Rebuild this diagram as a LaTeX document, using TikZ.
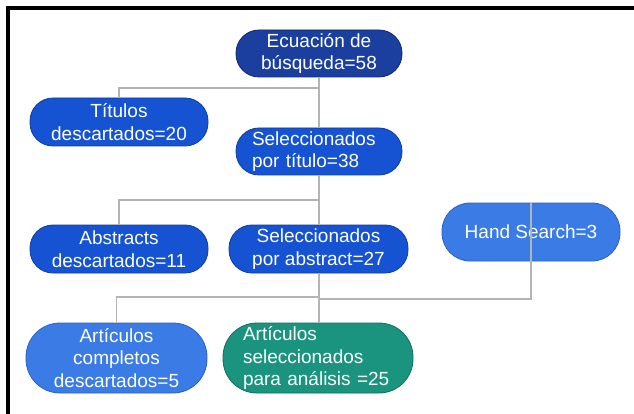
\documentclass[tikz,border=0pt]{standalone}
\usepackage{fontspec}
\setmainfont{Liberation Sans}
\definecolor{navy}{RGB}{27,63,159}
\definecolor{navyline}{RGB}{16,40,110}
\definecolor{midblue}{RGB}{21,83,211}
\definecolor{midline}{RGB}{14,60,165}
\definecolor{lightblue}{RGB}{58,123,230}
\definecolor{lightline}{RGB}{40,98,200}
\definecolor{teal}{RGB}{26,148,127}
\definecolor{tealline}{RGB}{18,110,92}
\definecolor{conn}{RGB}{180,180,180}
\begin{document}
\begin{tikzpicture}[x=1pt,y=-1pt,
  box/.style={draw, line width=0.8pt, text=white, inner sep=0pt,
    font=\fontsize{19}{22.5}\selectfont, align=center},
  short/.style={box, minimum height=47pt, rounded corners=23pt},
  tall/.style={box, minimum height=70pt, rounded corners=34pt},
  navybox/.style={fill=navy, draw=navyline},
  midbox/.style={fill=midblue, draw=midline},
  lightbox/.style={fill=lightblue, draw=lightline},
  tealbox/.style={fill=teal, draw=tealline},
  link/.style={draw=conn, line width=1.3pt},
  frameline/.style={draw=black, line width=3.5pt}
]
\useasboundingbox (0,0) rectangle (634,414);
\draw[frameline] (8,414) -- (8,8) -- (634,8);

\node[short, navybox, minimum width=166pt] (E) at (319,53.5) {Ecuación de\\búsqueda=58};
\node[short, midbox, minimum width=178pt, minimum height=48pt] (T) at (119,122) {Títulos\\descartados=20};
\node[short, midbox, minimum width=166pt, text width=134pt, align=left] (S1) at (319,151.5) {Seleccionados\\por título=38};
\node[short, midbox, minimum width=178pt, minimum height=48pt] (A) at (119,249) {Abstracts\\descartados=11};
\node[short, midbox, minimum width=179pt, minimum height=48pt] (S2) at (318.5,249) {Seleccionados\\por abstract=27};
\node[box, lightbox, minimum width=178pt, minimum height=58pt, rounded corners=28pt] (H) at (531,232) {Hand Search=3};
\node[tall, lightbox, minimum width=181pt] (C) at (116.5,358) {Artículos\\completos\\descartados=5};
\node[tall, tealbox, minimum width=190pt, text width=150pt, align=left] (F) at (318,358) {Artículos\\seleccionados\\para análisis =25};

\coordinate (j1) at (319,88);
\coordinate (j2) at (319,200);
\coordinate (j3) at (319,297);
\coordinate (j4) at (319,299);
\coordinate (hj) at (531,299);

\draw[link] (E.south) -- (E.south |- S1.north);
\draw[link] (j1) -| (T.north);
\draw[link] (S1.south) -- (S1.south |- S2.north);
\draw[link] (j2) -| (A.north);
\draw[link] (S2.south -| j3) -- (j3 |- F.north);
\draw[link] (j3) -| (C.north);
\draw[link] (H.north) -- (hj) -- (j4);
\end{tikzpicture}
\end{document}
